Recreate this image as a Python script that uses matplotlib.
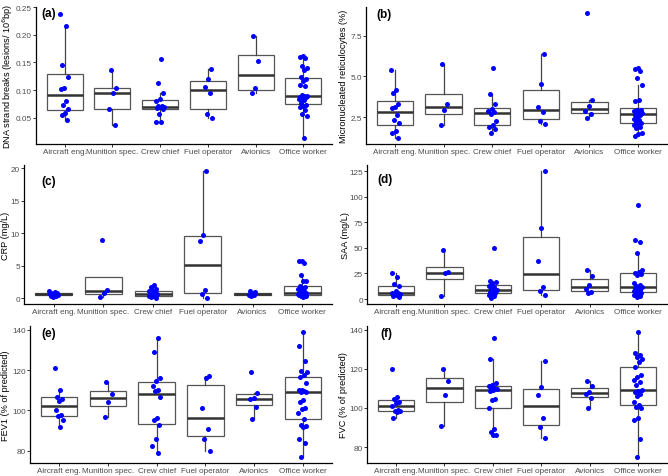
import matplotlib
matplotlib.use("Agg")
import matplotlib.pyplot as plt
import numpy as np

plt.rcParams['font.family'] = ['Liberation Sans', 'DejaVu Sans']

jobs = ["Aircraft eng.", "Munition spec.", "Crew chief", "Fuel operator", "Avionics", "Office worker"]

# (a) DNA strand breaks
dna_air = [0.238, 0.216, 0.146, 0.124, 0.103, 0.102, 0.080, 0.073, 0.066, 0.058, 0.055, 0.047]
dna_mun = [0.136, 0.103, 0.094, 0.066, 0.037]
dna_crew = [0.157, 0.113, 0.094, 0.084, 0.080, 0.072, 0.071, 0.069, 0.069, 0.067, 0.066, 0.057, 0.043, 0.043]
dna_fuel = [0.139, 0.120, 0.106, 0.094, 0.057, 0.050]
dna_avi = [0.197, 0.153, 0.103, 0.094]
dna_off = [0.162, 0.160, 0.158, 0.144, 0.140, 0.136, 0.124, 0.120, 0.117, 0.110, 0.107, 0.092, 0.090,
           0.089, 0.088, 0.087, 0.086, 0.084, 0.082, 0.076, 0.074, 0.072, 0.070, 0.065, 0.057, 0.054, 0.014]

# (b) micronucleated reticulocytes
mn_air = [5.41, 4.15, 3.97, 3.33, 3.12, 3.06, 2.62, 2.29, 2.15, 1.61, 1.51, 1.22]
mn_mun = [5.74, 3.31, 2.93, 2.00]
mn_crew = [5.52, 3.95, 3.31, 3.00, 2.89, 2.81, 2.67, 2.27, 2.02, 1.88, 1.76, 1.49]
mn_fuel = [6.40, 4.52, 3.12, 2.78, 2.27, 2.09]
mn_avi = [8.9, 3.55, 3.16, 2.89, 2.69, 2.42]
mn_off = [5.52, 5.43, 5.33, 4.89, 4.50, 3.53, 3.49, 2.95, 2.92, 2.90, 2.87, 2.81, 2.75, 2.70,
          2.64, 2.60, 2.52, 2.40, 2.30, 2.21, 2.13, 2.05, 1.98, 1.90, 1.80, 1.49, 1.43, 1.36]

# (c) CRP
crp_air = [1.05, 0.95, 0.85, 0.75, 0.70, 0.65, 0.60, 0.55, 0.50, 0.45, 0.40, 0.30, 0.20]
crp_mun = [8.9, 1.3, 0.8, 0.15]
crp_crew = [2.0, 1.7, 1.5, 1.2, 1.05, 0.95, 0.8, 0.7, 0.65, 0.6, 0.5, 0.4, 0.35, 0.3, 0.2, 0.1]
crp_fuel = [19.5, 9.75, 8.8, 1.35, 0.65, 0.1]
crp_avi = [1.2, 0.9, 0.7, 0.55, 0.45, 0.3]
crp_off = [5.8, 5.7, 5.5, 3.6, 2.7, 2.6, 1.9, 1.75, 1.6, 1.4, 1.1, 0.9, 0.8, 0.75, 0.75, 0.7, 0.7,
           0.65, 0.6, 0.55, 0.5, 0.5, 0.45, 0.4, 0.35, 0.3, 0.25]

# (d) SAA
saa_air = [25.7, 21.2, 14.6, 12.5, 7.5, 5.9, 5.5, 5.0, 4.6, 3.8, 3.3, 2.0]
saa_mun = [47.8, 26.1, 25.3, 3.3]
saa_crew = [49.8, 17.9, 16.9, 15.0, 12.5, 11.7, 10.1, 9.1, 8.5, 6.8, 5.9, 5.2, 3.6, 2.5, 1.3]
saa_fuel = [125, 69.3, 36.8, 11.7, 7.8, 3.9]
saa_avi = [28, 22.1, 13.3, 9.5, 6.8, 5.9]
saa_off = [91.8, 57.3, 56.0, 44.9, 28.0, 26.7, 25.7, 24.1, 23.1, 15.6, 14.0, 12.5, 12.0, 11.7,
           10.4, 9.1, 8.5, 7.8, 7.0, 6.2, 5.5, 4.6, 3.6, 3.0, 2.0]

# (e) FEV1
fev_air = [120.9, 110, 106.8, 105.8, 104.8, 100, 97.7, 97, 95, 91.9]
fev_mun = [113.9, 108, 104, 96.9]
fev_crew = [136, 128.8, 115.9, 114.6, 112.1, 110.3, 109.6, 106.8, 96, 95, 93, 85.9, 82.1, 79]
fev_fuel = [117.1, 116.2, 101, 91, 85.9, 79.8]
fev_avi = [118.9, 108.8, 106.1, 105.5, 101.8, 95.9]
fev_off = [138.8, 131.8, 124.7, 119.7, 119, 117.4, 116.6, 113.8, 110.3, 110, 109.8, 109.3, 109,
           105, 104, 101.2, 100.5, 98.5, 95.9, 92.7, 92.3, 92, 85.9, 83.9, 77]

# (f) FVC
fvc_air = [119.8, 105.8, 104.8, 103.1, 102.6, 101, 99.0, 98.6, 98.2, 97.9, 94.9]
fvc_mun = [119.8, 113.8, 106.8, 90.9]
fvc_crew = [135.9, 125, 113, 112, 111.3, 110.4, 110, 109.5, 109, 108.5, 104.8, 104.3, 100,
            89, 87.7, 86.3, 86]
fvc_fuel = [123.9, 110.9, 106.8, 95, 90.1, 84.8]
fvc_avi = [113.8, 111.1, 108.2, 107, 105.1, 100]
fvc_off = [138.8, 128, 127, 126, 125, 123.6, 120.9, 117.1, 115.7, 114.5, 113.3, 112, 109.4,
           108.8, 108.2, 107, 106.2, 102.9, 101.5, 100.3, 99.8, 94.9, 94, 83.9, 75]

W, H = 668, 477


def draw_panel(rect, groups, ylabel, yticks, ytlabels, tag, tag_xy, ylab_x):
    l, r, t, b = rect
    ax = plt.gcf().add_axes([l / W, 1 - b / H, (r - l) / W, (b - t) / H])
    pos = np.arange(1, len(groups) + 1)
    ax.boxplot(groups, positions=pos, widths=0.75, showfliers=False, patch_artist=True,
               boxprops=dict(facecolor="white", edgecolor="#555555", lw=0.9),
               whiskerprops=dict(color="#444444", lw=0.9),
               capprops=dict(lw=0),
               medianprops=dict(color="#333333", lw=1.8))
    for i, g in enumerate(groups):
        k = np.arange(len(g))
        jit = ((k * 0.618 + i * 0.3) % 1 - 0.5) * 0.18
        ax.scatter(pos[i] + jit, g, s=13, color="#0000FF", zorder=3, lw=0)
    allv = np.concatenate([np.array(g, float) for g in groups])
    rng = allv.max() - allv.min()
    ax.set_ylim(allv.min() - 0.05 * rng, allv.max() + 0.05 * rng)
    ax.set_xlim(0.4, len(groups) + 0.6)
    ax.set_xticks(pos)
    ax.set_xticklabels(jobs)
    ax.set_yticks(yticks)
    ax.set_yticklabels(ytlabels)
    ax.tick_params(labelsize=5.9, labelcolor="#4D4D4D", color="#333333", length=2, width=0.7, pad=1)
    for s in ["top", "right"]:
        ax.spines[s].set_visible(False)
    for s in ["left", "bottom"]:
        ax.spines[s].set_linewidth(0.9)
    plt.gcf().text(ylab_x / W, 1 - (t + b) / 2 / H, ylabel, rotation=90, ha="center", va="center", fontsize=6.6)
    plt.gcf().text(tag_xy[0] / W, 1 - tag_xy[1] / H, tag, ha="left", va="center", fontsize=8.5, fontweight="bold")
    return ax


fig = plt.figure(figsize=(W / 100, H / 100), dpi=100)

draw_panel((36, 332, 8, 145), [dna_air, dna_mun, dna_crew, dna_fuel, dna_avi, dna_off],
           "DNA strand breaks (lesions/ 10$^6$bp)", [0.05, 0.10, 0.15, 0.20, 0.25],
           ["0.05", "0.10", "0.15", "0.20", "0.25"], "(a)", (41, 14), 8)
draw_panel((366, 667, 8, 145), [mn_air, mn_mun, mn_crew, mn_fuel, mn_avi, mn_off],
           "Micronucleated reticulocytes (%)", [2.5, 5.0, 7.5], ["2.5", "5.0", "7.5"], "(b)", (376, 15), 343)
draw_panel((24, 332, 166, 305), [crp_air, crp_mun, crp_crew, crp_fuel, crp_avi, crp_off],
           "CRP (mg/L)", [0, 5, 10, 15, 20], ["0", "5", "10", "15", "20"], "(c)", (41, 182), 6)
draw_panel((367, 667, 166, 305), [saa_air, saa_mun, saa_crew, saa_fuel, saa_avi, saa_off],
           "SAA (mg/L)", [0, 25, 50, 75, 100, 125], ["0", "25", "50", "75", "100", "125"], "(d)", (377, 180), 346)
draw_panel((30, 332, 327, 464), [fev_air, fev_mun, fev_crew, fev_fuel, fev_avi, fev_off],
           "FEV1 (% of predicted)", [80, 100, 120, 140], ["80", "100", "120", "140"], "(e)", (41, 334), 6)
draw_panel((367, 667, 327, 464), [fvc_air, fvc_mun, fvc_crew, fvc_fuel, fvc_avi, fvc_off],
           "FVC (% of predicted)", [80, 100, 120, 140], ["80", "100", "120", "140"], "(f)", (380, 334), 344)

plt.savefig("out.png", dpi=100)
